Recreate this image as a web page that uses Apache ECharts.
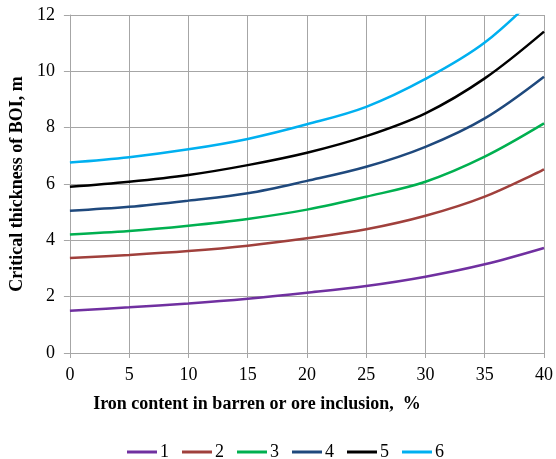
<!DOCTYPE html>
<html><head><meta charset="utf-8">
<script src="https://cdn.jsdelivr.net/npm/echarts@6/dist/echarts.min.js"></script>
<style>html,body{margin:0;padding:0;background:#fff}#c{width:556px;height:459px}</style>
</head><body><div id="c"></div>
<script>
const xValues = [0, 5, 10, 15, 20, 25, 30, 35, 40];
const seriesNames = ['1', '2', '3', '4', '5', '6'];
const s1 = [1.50, 1.62, 1.76, 1.93, 2.14, 2.38, 2.71, 3.15, 3.73];
const s2 = [3.37, 3.48, 3.62, 3.81, 4.07, 4.39, 4.87, 5.55, 6.52];
const s3 = [4.21, 4.33, 4.52, 4.76, 5.09, 5.55, 6.08, 6.97, 8.15];
const s4 = [5.05, 5.19, 5.41, 5.67, 6.11, 6.61, 7.32, 8.33, 9.81];
const s5 = [5.90, 6.08, 6.32, 6.67, 7.11, 7.70, 8.51, 9.75, 11.41];
const s6 = [6.76, 6.95, 7.23, 7.60, 8.12, 8.74, 9.73, 11.02, 12.95];
const colors = ['#7030a0', '#a0403c', '#00b050', '#1f497d', '#000000', '#00b0f0'];
const allSeries = [s1, s2, s3, s4, s5, s6];

const font = '"Liberation Serif", "Times New Roman", serif';
const chart = echarts.init(document.getElementById('c'));
chart.setOption({
  animation: false,
  color: colors,
  grid: {left: 69, right: 9, top: 15, bottom: 106, containLabel: false},
  xAxis: {
    type: 'value', min: 0, max: 40, interval: 5,
    name: 'Iron content in barren or ore inclusion,  %',
    nameLocation: 'middle', nameGap: 42,
    nameTextStyle: {fontFamily: font, fontSize: 18, fontWeight: 'bold', color: '#000', padding: [0, 100, 0, 0]},
    axisLine: {show: true, lineStyle: {color: '#a6a6a6', width: 1}},
    axisTick: {show: true, length: 5, lineStyle: {color: '#a6a6a6'}},
    axisLabel: {fontFamily: font, fontSize: 18, color: '#000', margin: 13},
    splitLine: {show: true, lineStyle: {color: '#a6a6a6', width: 1}}
  },
  yAxis: {
    type: 'value', min: 0, max: 12, interval: 2,
    name: 'Critical thickness of BOI, m',
    nameLocation: 'middle', nameGap: 38, nameRotate: 90,
    nameTextStyle: {fontFamily: font, fontSize: 18, fontWeight: 'bold', color: '#000'},
    axisLine: {show: true, lineStyle: {color: '#a6a6a6', width: 1}},
    axisTick: {show: true, length: 6, lineStyle: {color: '#a6a6a6'}},
    axisLabel: {fontFamily: font, fontSize: 18, color: '#000', margin: 15},
    splitLine: {show: true, lineStyle: {color: '#a6a6a6', width: 1}}
  },
  legend: {
    top: 438, left: 122,
    icon: 'rect', itemWidth: 30, itemHeight: 3, itemGap: 13,
    textStyle: {fontFamily: font, fontSize: 18, color: '#000', padding: [0,0,0,-2]},
    data: seriesNames
  },
  series: allSeries.map((d, i) => ({
    name: seriesNames[i], type: 'line', smooth: 0.35, showSymbol: false, symbol: 'none',
    clip: true,
    lineStyle: {width: 2.5, color: colors[i]},
    itemStyle: {color: colors[i]},
    data: xValues.map((x, j) => [x, d[j]])
  }))
});
</script></body></html>
